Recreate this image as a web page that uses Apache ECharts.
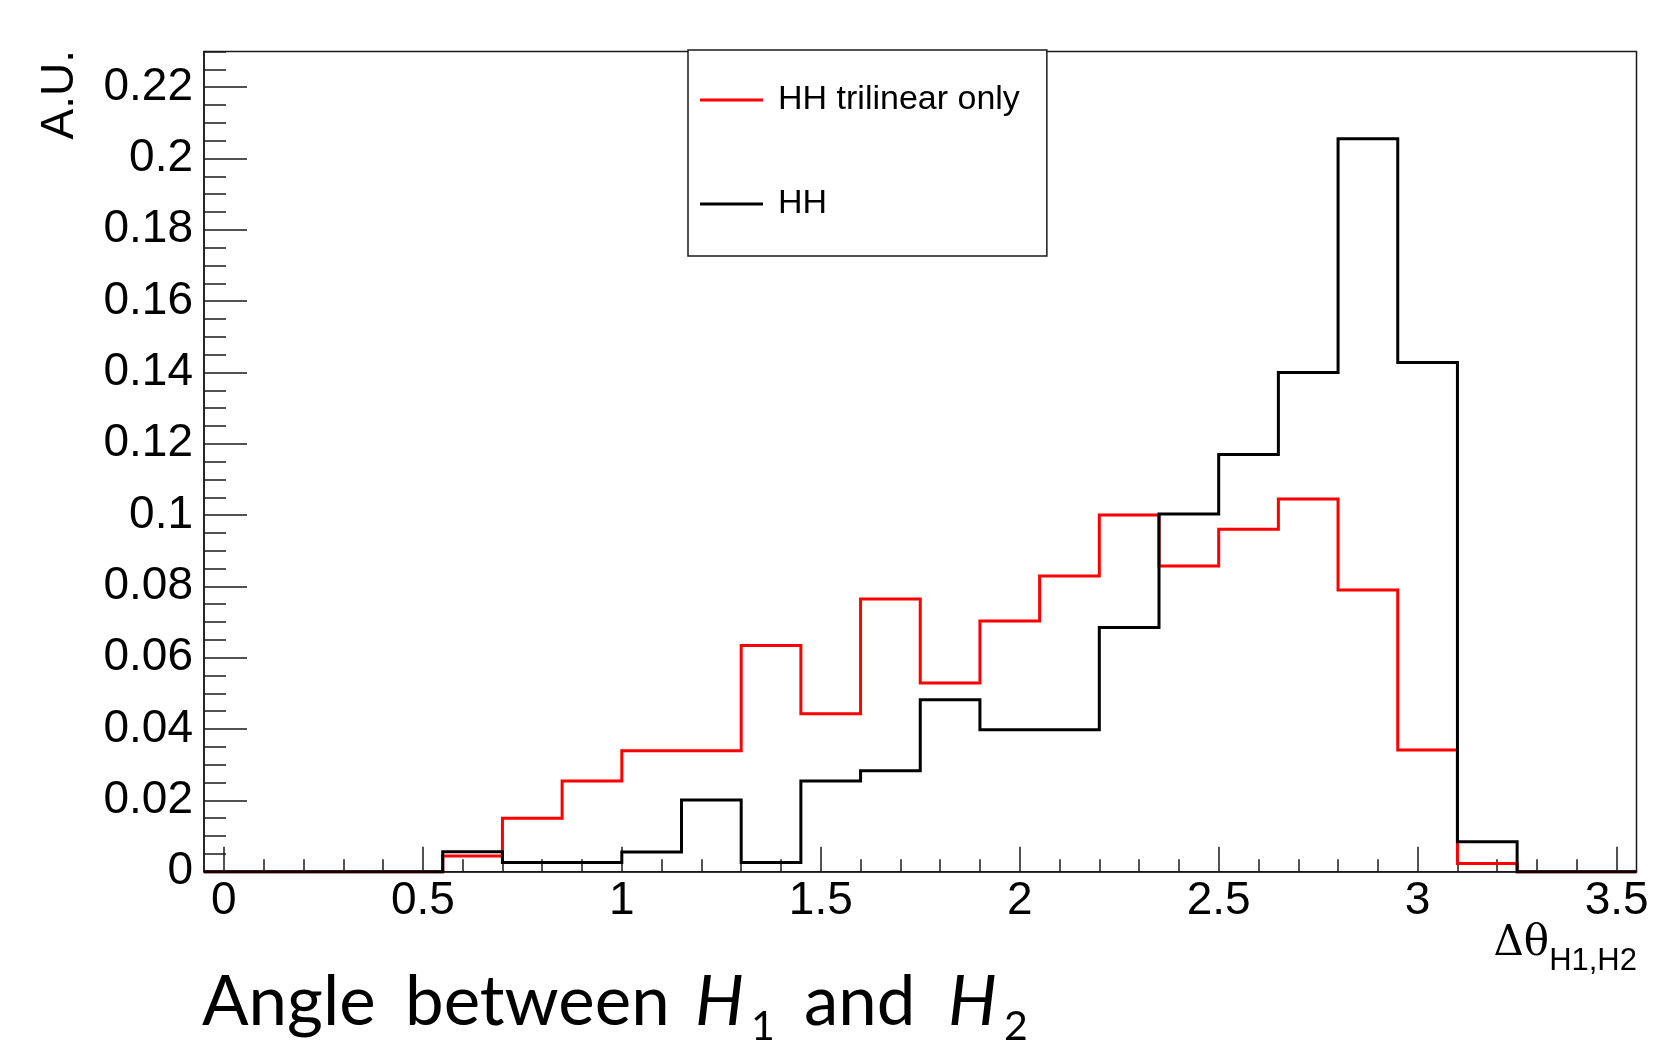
<!DOCTYPE html>
<html>
<head>
<meta charset="utf-8">
<script src="https://cdn.jsdelivr.net/npm/echarts@6/dist/echarts.min.js"></script>
<style>
html,body{margin:0;padding:0;background:#fff;}
#chart{width:1655px;height:1043px;}
</style>
</head>
<body>
<div id="chart"></div>
<script>
// ---- data ----
const binEdges = [-0.05, 0.1, 0.25, 0.4, 0.55, 0.7, 0.85, 1.0, 1.15, 1.3, 1.45, 1.6, 1.75, 1.9, 2.05, 2.2, 2.35, 2.5, 2.65, 2.8, 2.95, 3.1, 3.25, 3.4, 3.55];
const hhTrilinear = [0, 0, 0, 0, 0.0044, 0.0150, 0.0254, 0.0339, 0.0339, 0.0634, 0.0443, 0.0765, 0.0529, 0.0703, 0.0829, 0.1000, 0.0857, 0.0960, 0.1045, 0.0790, 0.0341, 0.0023, 0, 0];
const hhTotal = [0, 0, 0, 0, 0.0056, 0.0026, 0.0026, 0.0055, 0.0201, 0.0026, 0.0254, 0.0283, 0.0482, 0.0398, 0.0398, 0.0685, 0.1003, 0.1170, 0.1400, 0.2055, 0.1428, 0.0084, 0, 0];
const seriesNames = ['HH trilinear only', 'HH'];
const xTickValues = [0, 0.5, 1, 1.5, 2, 2.5, 3, 3.5];
const xTickLabels = ['0', '0.5', '1', '1.5', '2', '2.5', '3', '3.5'];
const yTickValues = [0, 0.02, 0.04, 0.06, 0.08, 0.1, 0.12, 0.14, 0.16, 0.18, 0.2, 0.22];
const yTickLabels = ['0', '0.02', '0.04', '0.06', '0.08', '0.1', '0.12', '0.14', '0.16', '0.18', '0.2', '0.22'];
const xRange = [-0.05, 3.55];
const yRange = [0, 0.23];

// ---- helpers ----
function subdivide(major, n, lo, hi) {
  const step = (major[1] - major[0]) / n;
  const out = [];
  const first = major[0] - step * n;
  const last = major[major.length - 1] + step * n;
  for (let k = 0; first + k * step <= last + 1e-9; k++) {
    const v = +(first + k * step).toFixed(6);
    if (k % n === 0) continue;
    if (v >= lo - 1e-9 && v <= hi + 1e-9) out.push(v);
  }
  return out;
}
function histPoints(edges, vals) {
  const pts = vals.map((v, i) => [edges[i], v]);
  pts.push([edges[edges.length - 1], vals[vals.length - 1]]);
  return pts;
}
function labelFor(values, labels) {
  return function (v) {
    for (let i = 0; i < values.length; i++) if (Math.abs(values[i] - v) < 1e-9) return labels[i];
    return '';
  };
}

const xMinor = subdivide(xTickValues, 5, xRange[0], xRange[1]);
const yMinor = subdivide(yTickValues, 4, yRange[0], yRange[1]);

const AX = '#1a1a1a';
const SANS = '"Liberation Sans", Arial, Helvetica, sans-serif';
const TITLE_FONT = 'Lato, "Open Sans", sans-serif';

const chart = echarts.init(document.getElementById('chart'), null, { renderer: 'canvas' });

const option = {
  animation: false,
  backgroundColor: '#fff',
  grid: {
    left: 204, right: 18.5, top: 51.5, bottom: 171.3,
    show: true, borderColor: AX, borderWidth: 1.5, backgroundColor: 'transparent',
    outerBoundsMode: 'none', containLabel: false
  },
  legend: {
    data: seriesNames,
    orient: 'vertical',
    left: 688, top: 50,
    padding: [33, 27, 35, 12],
    itemGap: 70,
    itemWidth: 63, itemHeight: 3,
    icon: 'rect',
    borderColor: AX, borderWidth: 1.5, backgroundColor: '#fff',
    textStyle: { fontFamily: SANS, fontSize: 34, color: '#000', padding: [0, 0, 0, 10] },
    selectedMode: false
  },
  xAxis: [
    {
      type: 'value', min: xRange[0], max: xRange[1], position: 'bottom',
      axisLine: { show: true, onZero: false, lineStyle: { color: AX, width: 1.5 } },
      axisTick: { show: true, inside: true, length: 25, customValues: xTickValues, lineStyle: { color: AX, width: 1.5 } },
      axisLabel: { show: true, customValues: xTickValues, formatter: labelFor(xTickValues, xTickLabels), margin: 7,
        fontFamily: SANS, fontSize: 46, color: '#000', hideOverlap: false },
      splitLine: { show: false }
    },
    {
      type: 'value', min: xRange[0], max: xRange[1], position: 'bottom',
      axisLine: { show: false, onZero: false },
      axisTick: { show: true, inside: true, length: 12.5, customValues: xMinor, lineStyle: { color: AX, width: 1.5 } },
      axisLabel: { show: false },
      splitLine: { show: false }
    }
  ],
  yAxis: [
    {
      type: 'value', min: yRange[0], max: yRange[1], position: 'left',
      axisLine: { show: true, onZero: false, lineStyle: { color: AX, width: 1.5 } },
      axisTick: { show: true, inside: true, length: 43, customValues: yTickValues, lineStyle: { color: AX, width: 1.5 } },
      axisLabel: { show: true, customValues: yTickValues, formatter: labelFor(yTickValues, yTickLabels), margin: 11,
        fontFamily: SANS, fontSize: 46, color: '#000', hideOverlap: false },
      splitLine: { show: false }
    },
    {
      type: 'value', min: yRange[0], max: yRange[1], position: 'left',
      axisLine: { show: false, onZero: false },
      axisTick: { show: true, inside: true, length: 22, customValues: yMinor, lineStyle: { color: AX, width: 1.5 } },
      axisLabel: { show: false },
      splitLine: { show: false }
    }
  ],
  series: [
    {
      name: seriesNames[0], type: 'line', step: 'end', xAxisIndex: 0, yAxisIndex: 0,
      data: histPoints(binEdges, hhTrilinear),
      showSymbol: false, symbol: 'none', clip: false, z: 2,
      lineStyle: { color: '#ff0000', width: 3, join: 'miter', cap: 'butt' },
      itemStyle: { color: '#ff0000' },
      emphasis: { disabled: true }
    },
    {
      name: seriesNames[1], type: 'line', step: 'end', xAxisIndex: 0, yAxisIndex: 0,
      data: histPoints(binEdges, hhTotal),
      showSymbol: false, symbol: 'none', clip: false, z: 3,
      lineStyle: { color: '#000000', width: 3, join: 'miter', cap: 'butt' },
      itemStyle: { color: '#000000' },
      emphasis: { disabled: true }
    }
  ],
  graphic: [
    { type: 'text', x: 60, y: 50, rotation: Math.PI / 2,
      style: { text: 'A.U.', fontFamily: SANS, fontSize: 46, fill: '#000', align: 'right', verticalAlign: 'middle' } },
    { type: 'text', x: 1549, y: 944,
      style: { text: 'Δθ', fontFamily: '"DejaVu Serif", "Liberation Serif", serif', fontSize: 42, fill: '#000', align: 'right', verticalAlign: 'middle' } },
    { type: 'text', x: 1637, y: 961,
      style: { text: 'H1,H2', fontFamily: SANS, fontSize: 31, fill: '#000', align: 'right', verticalAlign: 'middle' } },
    { type: 'text', x: 202, y: 1003,
      style: { text: 'Angle', fontFamily: TITLE_FONT, fontSize: 69, fill: '#000', align: 'left', verticalAlign: 'middle' } },
    { type: 'text', x: 405, y: 1003,
      style: { text: 'between', fontFamily: TITLE_FONT, fontSize: 69, fill: '#000', align: 'left', verticalAlign: 'middle' } },
    { type: 'text', x: 695, y: 1003,
      style: { text: 'H', fontFamily: TITLE_FONT, fontStyle: 'italic', fontSize: 69, fill: '#000', align: 'left', verticalAlign: 'middle' } },
    { type: 'text', x: 751, y: 1027,
      style: { text: '1', fontFamily: TITLE_FONT, fontSize: 41, fill: '#000', align: 'left', verticalAlign: 'middle' } },
    { type: 'text', x: 804, y: 1003,
      style: { text: 'and', fontFamily: TITLE_FONT, fontSize: 69, fill: '#000', align: 'left', verticalAlign: 'middle' } },
    { type: 'text', x: 948, y: 1003,
      style: { text: 'H', fontFamily: TITLE_FONT, fontStyle: 'italic', fontSize: 69, fill: '#000', align: 'left', verticalAlign: 'middle' } },
    { type: 'text', x: 1004, y: 1027,
      style: { text: '2', fontFamily: TITLE_FONT, fontSize: 41, fill: '#000', align: 'left', verticalAlign: 'middle' } }
  ]
};

chart.setOption(option);
</script>
</body>
</html>
